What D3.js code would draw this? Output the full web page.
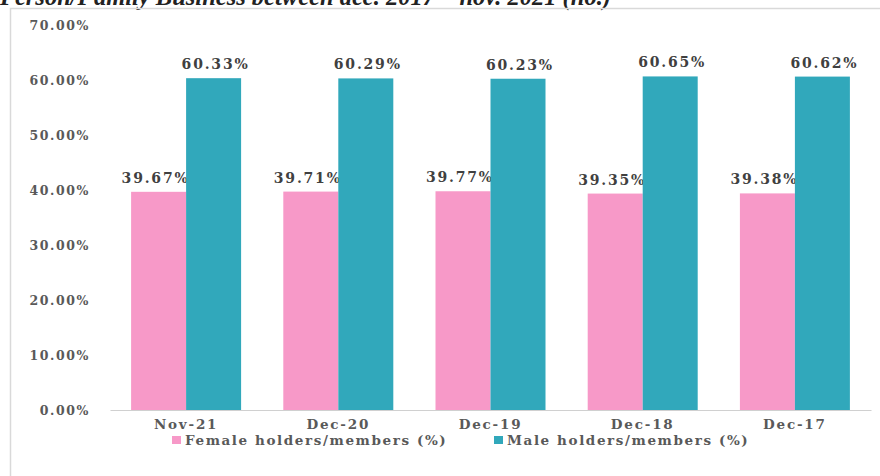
<!DOCTYPE html>
<html>
<head>
<meta charset="utf-8">
<script src="https://cdn.jsdelivr.net/npm/d3@7"></script>
<style>
  html, body { margin: 0; padding: 0; background: #fff; overflow: hidden; }
  svg { display: block; }
</style>
</head>
<body>
<svg id="chart" width="880" height="476"></svg>
<script>
// data
var categories = ['Nov-21', 'Dec-20', 'Dec-19', 'Dec-18', 'Dec-17']
var femaleValues = [39.67, 39.71, 39.77, 39.35, 39.38]
var maleValues = [60.33, 60.29, 60.23, 60.65, 60.62]
var seriesNames = ['Female holders/members (%)', 'Male holders/members (%)']
var seriesColors = ['#f799c8', '#31a8bb']
var yTicks = [0, 10, 20, 30, 40, 50, 60, 70]

var svg = d3.select('#chart'),
  font = "'DejaVu Serif', serif",
  textColor = '#595959'

// title, cut off at the top like in the source picture
svg.append('text')
  .attr('x', 0).attr('y', 5)
  .attr('font-family', "'Liberation Serif', serif")
  .attr('font-style', 'italic')
  .attr('font-weight', 'bold')
  .attr('font-size', 24.5)
  .attr('fill', '#222')
  .text('Person/Family Business between dec. 2017 \u2013 nov. 2021 (no.)')

// chart frame
svg.append('rect')
  .attr('x', 10.5).attr('y', 8.5)
  .attr('width', 880).attr('height', 480)
  .attr('fill', 'none')
  .attr('stroke', '#d9d9d9')
  .attr('stroke-width', 1.5)

var margin = { left: 110, right: 9, top: 25, bottom: 66 },
  width = 880 - margin.left - margin.right,
  height = 476 - margin.top - margin.bottom

var g = svg.append('g')
  .attr('transform', 'translate(' + margin.left + ',' + margin.top + ')')

var x = d3.scaleBand().domain(categories).range([0, width])
var inner = d3.scaleBand().domain([0, 1]).range([0, 110])
var y = d3.scaleLinear().domain([0, 70]).range([height, 0])

// y axis labels
var yAxis = g.append('g')
  .call(d3.axisLeft(y).tickValues(yTicks).tickSize(0).tickPadding(20)
    .tickFormat(function (d) { return d.toFixed(2) + '%' }))
yAxis.select('.domain').remove()
yAxis.selectAll('text')
  .attr('font-family', font)
  .attr('font-weight', 'bold')
  .attr('font-size', 12.5)
  .attr('letter-spacing', 1.6)
  .attr('fill', textColor)

var series = [femaleValues, maleValues]

series.forEach(function (vals, si) {
  var groupOffset = (x.bandwidth() - 110) / 2
  g.selectAll('.bar' + si)
    .data(vals)
    .enter()
    .append('rect')
    .attr('class', 'bar' + si)
    .attr('x', function (d, i) { return x(categories[i]) + groupOffset + inner(si) })
    .attr('y', function (d) { return y(d) })
    .attr('width', inner.bandwidth())
    .attr('height', function (d) { return height - y(d) })
    .attr('fill', seriesColors[si])

  g.selectAll('.label' + si)
    .data(vals)
    .enter()
    .append('text')
    .attr('class', 'label' + si)
    .attr('x', function (d, i) {
      return x(categories[i]) + groupOffset + inner(si) + inner.bandwidth() / 2 + (si === 0 ? -3 : 2)
    })
    .attr('y', function (d) { return y(d) - 9 })
    .attr('text-anchor', 'middle')
    .attr('font-family', font)
    .attr('font-weight', 'bold')
    .attr('font-size', 14)
    .attr('letter-spacing', 1.8)
    .attr('fill', '#404040')
    .text(function (d) { return d.toFixed(2) + '%' })
})

// baseline + x labels
var xAxis = g.append('g')
  .attr('transform', 'translate(0,' + height + ')')
  .call(d3.axisBottom(x).tickSize(0).tickPadding(9))
xAxis.select('.domain').attr('stroke', '#d0d0d0').attr('stroke-width', 1.2)
xAxis.selectAll('text')
  .attr('font-family', font)
  .attr('font-weight', 'bold')
  .attr('font-size', 13.5)
  .attr('letter-spacing', 1.8)
  .attr('fill', textColor)

// legend
var legendX = [172, 494]
var legend = svg.append('g').attr('transform', 'translate(0,440)')
seriesNames.forEach(function (name, i) {
  legend.append('rect')
    .attr('x', legendX[i]).attr('y', -4)
    .attr('width', 9).attr('height', 8)
    .attr('fill', seriesColors[i])
  legend.append('text')
    .attr('x', legendX[i] + 13).attr('y', 0)
    .attr('dy', '0.35em')
    .attr('font-family', font)
    .attr('font-weight', 'bold')
    .attr('font-size', 13.5)
    .attr('letter-spacing', 1.6)
    .attr('fill', textColor)
    .text(name)
})
</script>
</body>
</html>
